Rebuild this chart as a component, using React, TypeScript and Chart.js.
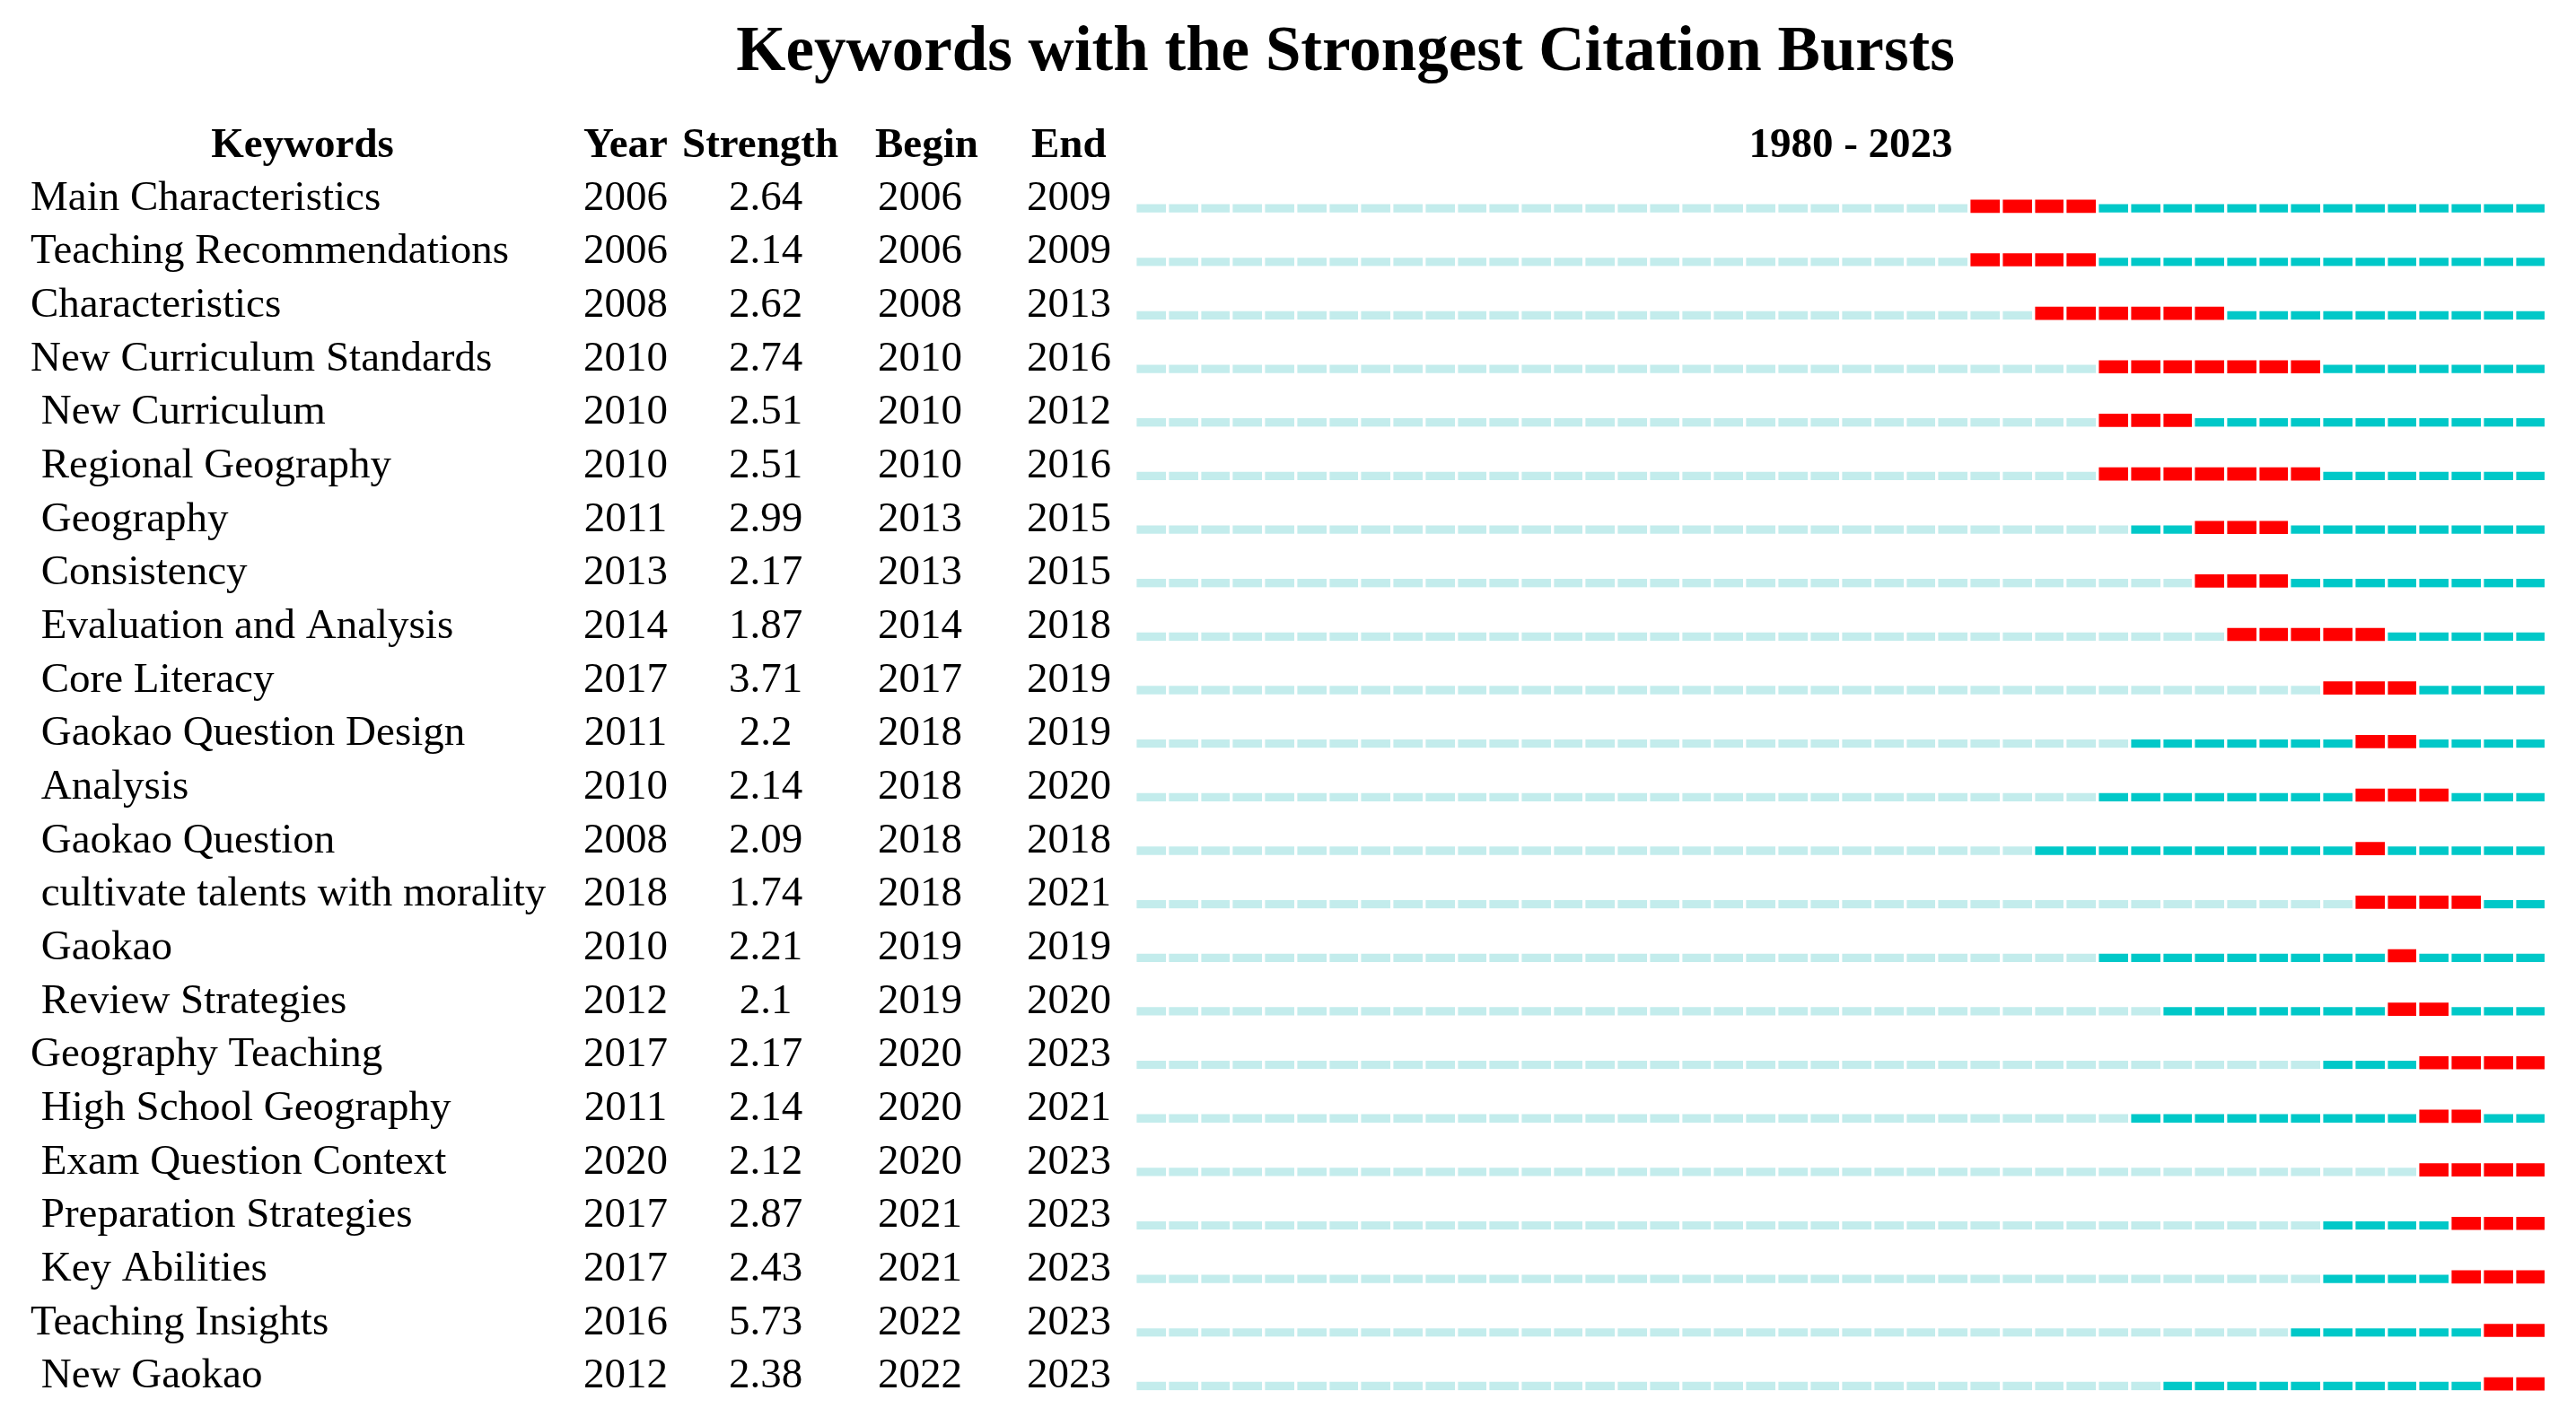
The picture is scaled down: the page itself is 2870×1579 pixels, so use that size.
import React, { useEffect, useRef } from "react";
import { Chart, registerables } from "chart.js";

Chart.register(...registerables);

const TITLE = "Keywords with the Strongest Citation Bursts";
const RANGE_LABEL = "1980 - 2023";
const HEADER_KEYWORDS = "Keywords";
const HEADER_YEAR = "Year";
const HEADER_STRENGTH = "Strength";
const HEADER_BEGIN = "Begin";
const HEADER_END = "End";

const FIRST_YEAR = 1980;
const LAST_YEAR = 2023;

const keywords = [
  "Main Characteristics",
  "Teaching Recommendations",
  "Characteristics",
  "New Curriculum Standards",
  " New Curriculum",
  " Regional Geography",
  " Geography",
  " Consistency",
  " Evaluation and Analysis",
  " Core Literacy",
  " Gaokao Question Design",
  " Analysis",
  " Gaokao Question",
  " cultivate talents with morality",
  " Gaokao",
  " Review Strategies",
  "Geography Teaching",
  " High School Geography",
  " Exam Question Context",
  " Preparation Strategies",
  " Key Abilities",
  "Teaching Insights",
  " New Gaokao",
];

const years = [2006, 2006, 2008, 2010, 2010, 2010, 2011, 2013, 2014, 2017, 2011, 2010, 2008, 2018, 2010, 2012, 2017, 2011, 2020, 2017, 2017, 2016, 2012];
const strengths = [2.64, 2.14, 2.62, 2.74, 2.51, 2.51, 2.99, 2.17, 1.87, 3.71, 2.2, 2.14, 2.09, 1.74, 2.21, 2.1, 2.17, 2.14, 2.12, 2.87, 2.43, 5.73, 2.38];
const begins = [2006, 2006, 2008, 2010, 2010, 2010, 2013, 2013, 2014, 2017, 2018, 2018, 2018, 2018, 2019, 2019, 2020, 2020, 2020, 2021, 2021, 2022, 2022];
const ends = [2009, 2009, 2013, 2016, 2012, 2016, 2015, 2015, 2018, 2019, 2019, 2020, 2018, 2021, 2019, 2020, 2023, 2021, 2023, 2023, 2023, 2023, 2023];

const LIGHT = "#C3ECEC";
const TEAL = "#00C8C8";
const RED = "#FF0000";
const FONT = '"Liberation Serif", "Times New Roman", serif';

export default function App() {
  const ref = useRef<HTMLCanvasElement>(null);

  useEffect(() => {
    document.body.style.margin = "0";
    const canvas = ref.current;
    if (!canvas) return;

    const textPlugin = {
      id: "burstText",
      afterDraw(chart: any) {
        const ctx = chart.ctx as CanvasRenderingContext2D;
        const yScale = chart.scales.y;
        ctx.save();
        ctx.fillStyle = "#000000";
        ctx.textBaseline = "alphabetic";

        ctx.font = `bold 71px ${FONT}`;
        ctx.textAlign = "center";
        ctx.fillText(TITLE, 1499, 78);

        ctx.font = `bold 47px ${FONT}`;
        ctx.textAlign = "center";
        ctx.fillText(HEADER_KEYWORDS, 337, 175);
        ctx.textAlign = "left";
        ctx.fillText(HEADER_YEAR, 650, 175);
        ctx.fillText(HEADER_STRENGTH, 760, 175);
        ctx.fillText(HEADER_BEGIN, 975, 175);
        ctx.fillText(HEADER_END, 1149, 175);
        ctx.textAlign = "center";
        ctx.fillText(RANGE_LABEL, 2062, 175);

        ctx.font = `47px ${FONT}`;
        keywords.forEach((k, i) => {
          const yy = yScale.getPixelForValue(i) + 4;
          ctx.textAlign = "left";
          ctx.fillText(k, 34, yy);
          ctx.textAlign = "center";
          ctx.fillText(String(years[i]), 697, yy);
          ctx.fillText(String(strengths[i]), 853, yy);
          ctx.fillText(String(begins[i]), 1025, yy);
          ctx.fillText(String(ends[i]), 1191, yy);
        });
        ctx.restore();
      },
    };

    const thinBar = {
      barThickness: 14,
      grouped: false,
      borderSkipped: false as const,
      borderWidth: { top: 5, right: 0, bottom: 0, left: 0 },
      borderColor: "rgba(0,0,0,0)",
    };

    const chart = new Chart(canvas, {
      type: "bar",
      data: {
        labels: keywords,
        datasets: [
          {
            label: "before",
            data: keywords.map((_, i) => [FIRST_YEAR, years[i]]) as any,
            backgroundColor: LIGHT,
            ...thinBar,
          },
          {
            label: "active-pre",
            data: keywords.map((_, i) => (begins[i] > years[i] ? [years[i], begins[i]] : null)) as any,
            backgroundColor: TEAL,
            ...thinBar,
          },
          {
            label: "burst",
            data: keywords.map((_, i) => [begins[i], ends[i] + 1]) as any,
            backgroundColor: RED,
            barThickness: 14,
            grouped: false,
            borderWidth: 0,
          },
          {
            label: "active-post",
            data: keywords.map((_, i) => (ends[i] < LAST_YEAR ? [ends[i] + 1, LAST_YEAR + 1] : null)) as any,
            backgroundColor: TEAL,
            ...thinBar,
          },
        ],
      },
      options: {
        indexAxis: "y",
        responsive: false,
        maintainAspectRatio: false,
        animation: false,
        devicePixelRatio: 1,
        layout: { padding: { left: 1265, right: 33, top: 200, bottom: 7 } },
        plugins: {
          legend: { display: false },
          title: { display: false },
          tooltip: { enabled: false },
        },
        scales: {
          x: {
            type: "linear",
            min: FIRST_YEAR,
            max: LAST_YEAR + 1,
            display: true,
            ticks: { display: false, stepSize: 1, maxTicksLimit: 100, autoSkip: false },
            grid: { display: true, color: "#FFFFFF", lineWidth: 3.4, drawTicks: false, z: 1 },
            border: { display: false },
          },
          y: {
            type: "category",
            display: false,
          },
        },
      },
      plugins: [textPlugin],
    } as any);

    return () => chart.destroy();
  }, []);

  return (
    <div style={{ width: 2870, height: 1579, background: "#FFFFFF" }}>
      <canvas ref={ref} width={2870} height={1579} style={{ display: "block" }} />
    </div>
  );
}
